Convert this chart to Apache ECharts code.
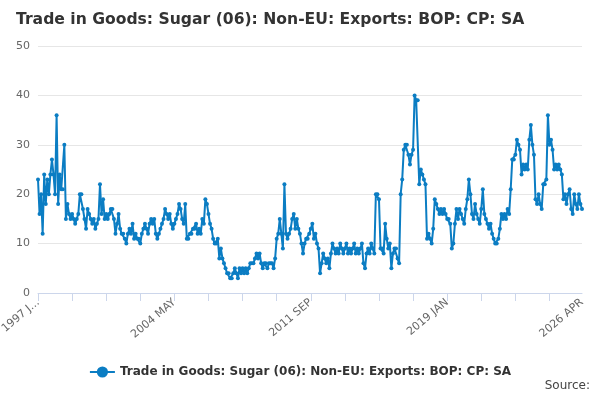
<!DOCTYPE html>
<html><head><meta charset="utf-8">
<script src="https://cdn.jsdelivr.net/npm/echarts@6/dist/echarts.min.js"></script>
<style>html,body{margin:0;padding:0;background:#fff}#c{width:600px;height:400px}</style>
</head><body><div id="c"></div>
<script>
var monthNames=["JAN","FEB","MAR","APR","MAY","JUN","JUL","AUG","SEP","OCT","NOV","DEC"];
var values=[
23,16,20,12,24,18,23,20,24,27,24,20,
36,18,24,21,21,30,15,18,16,15,16,15,
14,15,16,20,20,17,15,13,17,16,15,14,
15,13,14,15,22,16,19,15,16,15,16,17,
17,15,12,14,16,13,12,12,11,10,12,13,
12,14,11,12,11,11,10,12,13,14,13,12,
14,15,14,15,12,11,12,13,14,15,17,16,
15,16,14,13,14,15,16,18,17,15,14,18,
11,11,12,12,13,13,14,12,13,12,15,14,
19,18,16,14,13,11,10,10,11,7,9,7,
6,5,4,4,3,3,4,5,4,3,5,4,
5,4,5,4,5,6,6,6,7,8,7,8,
6,5,6,6,5,6,6,6,5,7,11,12,
15,12,9,22,12,11,12,13,15,16,13,15,
13,12,10,8,10,11,11,12,13,14,11,12,
10,9,4,6,8,7,6,7,5,8,10,9,
8,9,8,10,9,8,9,10,8,9,8,9,
10,8,9,8,9,10,6,5,8,9,8,10,
9,8,20,20,19,9,9,8,14,11,9,10,
5,8,9,9,7,6,20,23,29,30,30,28,
26,28,29,40,39,39,22,25,24,23,22,11,
12,11,10,13,19,18,17,16,17,16,17,16,
15,15,14,9,10,14,17,15,17,16,15,14,
17,19,23,20,16,15,18,16,15,14,17,21,
16,15,14,13,14,12,11,10,10,11,13,16,
15,16,15,17,16,21,27,27,28,31,30,29,
24,26,25,26,25,31,34,30,28,19,18,20,
18,17,22,22,23,36,30,31,29,25,26,25,
26,25,24,19,20,18,20,21,17,16,20,18,
17,20,18,17];
var categories=[];
for(var i=0;i<values.length;i++){categories.push((1997+Math.floor(i/12))+" "+monthNames[i%12]);}
var labelIdx=[0,88,176,264,351];
var seriesName="Trade in Goods: Sugar (06): Non-EU: Exports: BOP: CP: SA";
var chart=echarts.init(document.getElementById('c'));
chart.setOption({
 animation:false,
 title:{text:seriesName,left:11,top:7,textStyle:{fontSize:15.6,fontWeight:'bold',color:'#333',fontFamily:'DejaVu Sans'}},
 graphic:[{type:'text',right:10,bottom:8,style:{text:'Source:',fill:'#444',fontSize:12,fontFamily:'DejaVu Sans'}}],
 legend:{bottom:17,left:'center',textStyle:{fontWeight:'bold',fontSize:12,color:'#333',fontFamily:'DejaVu Sans'},itemWidth:25},
 grid:{left:38,right:18,top:46,bottom:107,containLabel:false,outerBoundsMode:'none'},
 xAxis:{type:'category',data:categories,boundaryGap:false,
  axisLine:{lineStyle:{color:'#ccd6eb'}},
  axisTick:{interval:21,lineStyle:{color:'#ccd6eb'},length:8},
  axisLabel:{rotate:40,color:'#666',fontSize:11,fontFamily:'DejaVu Sans',
   interval:function(i){return labelIdx.indexOf(i)>=0;},
   formatter:function(v,i){return i===0?v.slice(0,6)+'...':v;}}},
 yAxis:{type:'value',min:0,max:50,interval:10,
  axisLabel:{color:'#666',fontSize:11,fontFamily:'DejaVu Sans'},
  splitLine:{lineStyle:{color:'#e6e6e6'}}},
 series:[{name:seriesName,type:'line',data:values,color:'#0b7dc3',
  symbol:'circle',symbolSize:4,showAllSymbol:true,lineStyle:{width:2}}]
});
</script></body></html>
